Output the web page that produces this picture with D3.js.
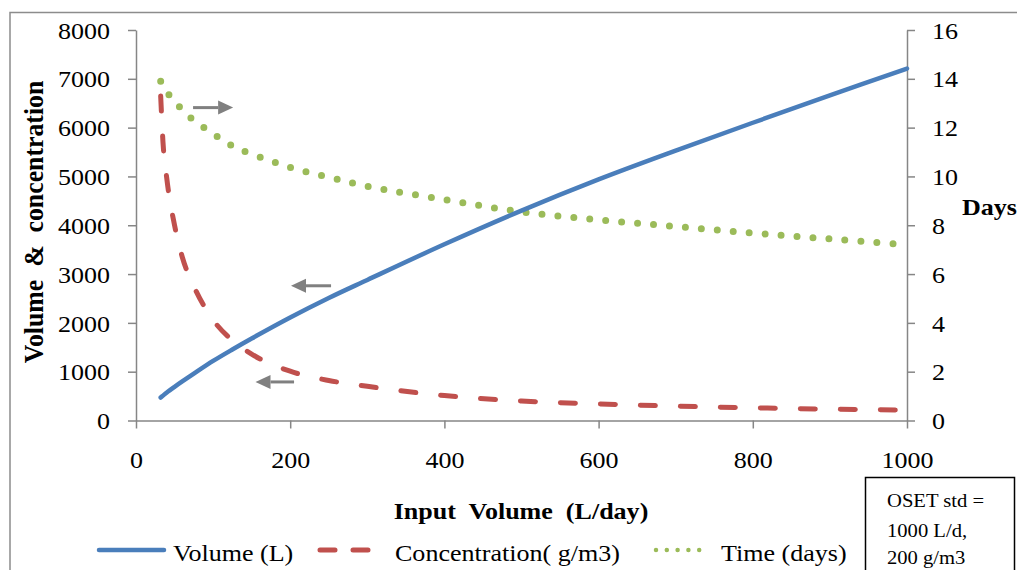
<!DOCTYPE html>
<html>
<head>
<meta charset="utf-8">
<script src="https://cdn.jsdelivr.net/npm/d3@7"></script>
<style>
  body { margin: 0; background: #fff; }
  text { font-family: "Liberation Serif", "Times New Roman", serif; }
</style>
</head>
<body>
<div id="chart"></div>
<script>
// data
const inputVolume   = [32, 35, 40, 50, 60, 75, 100, 125, 150, 200, 250, 300, 400, 500, 600, 700, 800, 900, 1000];
const volumeL       = [470, 510, 575, 690, 800, 960, 1220, 1455, 1680, 2110, 2510, 2880, 3610, 4300, 4940, 5530, 6100, 6660, 7210];
const concentration = [6650, 5700, 4950, 4000, 3350, 2750, 2060, 1640, 1360, 1010, 820, 700, 510, 400, 340, 295, 260, 232, 215];
const timeDays      = [13.9, 13.75, 13.45, 13.1, 12.72, 12.3, 11.75, 11.25, 10.92, 10.37, 9.97, 9.6, 9.05, 8.55, 8.22, 7.95, 7.68, 7.44, 7.2];

const xTicks = [0, 200, 400, 600, 800, 1000];
const yLeftTicks = [0, 1000, 2000, 3000, 4000, 5000, 6000, 7000, 8000];
const yRightTicks = [0, 2, 4, 6, 8, 10, 12, 14, 16];

// annotation arrows, in x / left-axis units: [x1, x2, y, direction]
const arrows = [
  [74, 126, 6410, 1],
  [201, 253, 2760, -1],
  [155, 205, 790, -1]
];

const W = 1017, H = 570;
const SX = 1.085; // horizontal stretch of the original picture
const blue = "#4a7ebb", red = "#c0504d", green = "#9bbb59", axisGray = "#868686";

const svg = d3.select("#chart").append("svg")
    .attr("width", W)
    .attr("height", H);

// outer chart border (runs off the picture on the right and bottom)
svg.append("rect")
    .attr("x", 10).attr("y", 12.5)
    .attr("width", 1100).attr("height", 700)
    .attr("fill", "none")
    .attr("stroke", "#8c8c8c")
    .attr("stroke-width", 1.5);

const x = d3.scaleLinear().domain([0, 1000]).range([136, 907]);
const yL = d3.scaleLinear().domain([0, 8000]).range([420.5, 30]);
const yR = d3.scaleLinear().domain([0, 16]).range([420.5, 30]);

function styleAxis(g) {
    g.select(".domain").attr("stroke", axisGray).attr("stroke-width", 1.5);
    g.selectAll(".tick line").attr("stroke", axisGray).attr("stroke-width", 1.5);
    g.selectAll(".tick text")
        .attr("fill", "#000")
        .style("font-family", "'Liberation Serif', serif")
        .style("font-size", "24px")
        .attr("transform", "scale(" + SX + ",1)");
}

// X axis
svg.append("g")
    .attr("transform", "translate(0," + yL(0) + ")")
    .call(d3.axisBottom(x).tickValues(xTicks).tickFormat(d3.format("d"))
        .tickSize(8).tickSizeOuter(0).tickPadding(22))
    .call(styleAxis);

// left Y axis
svg.append("g")
    .attr("transform", "translate(" + x(0) + ",0)")
    .call(d3.axisLeft(yL).tickValues(yLeftTicks).tickFormat(d3.format("d"))
        .tickSize(8).tickSizeOuter(0).tickPadding(16))
    .call(styleAxis)
    .selectAll(".tick text").attr("dy", "0.34em");

// right Y axis
svg.append("g")
    .attr("transform", "translate(" + x(1000) + ",0)")
    .call(d3.axisRight(yR).tickValues(yRightTicks).tickFormat(d3.format("d"))
        .tickSize(8).tickSizeOuter(0).tickPadding(15))
    .call(styleAxis)
    .selectAll(".tick text").attr("dy", "0.34em");

// series
const pts = inputVolume.map((v, i) => ({ x: v, vol: volumeL[i], conc: concentration[i], t: timeDays[i] }));

const lineVol = d3.line().x(d => x(d.x)).y(d => yL(d.vol)).curve(d3.curveCatmullRom.alpha(0.5));
const lineConc = d3.line().x(d => x(d.x)).y(d => yL(d.conc)).curve(d3.curveMonotoneX);
const lineTime = d3.line().x(d => x(d.x)).y(d => yR(d.t)).curve(d3.curveCatmullRom.alpha(0.5));

svg.append("path")
    .attr("d", lineTime(pts))
    .attr("fill", "none")
    .attr("stroke", green)
    .attr("stroke-width", 7)
    .attr("stroke-linecap", "round")
    .attr("stroke-dasharray", "0 16");

svg.append("path")
    .attr("d", lineConc(pts))
    .attr("fill", "none")
    .attr("stroke", red)
    .attr("stroke-width", 5)
    .attr("stroke-linecap", "round")
    .attr("stroke-dasharray", "15 25");

svg.append("path")
    .attr("d", lineVol(pts))
    .attr("fill", "none")
    .attr("stroke", blue)
    .attr("stroke-width", 4.5)
    .attr("stroke-linecap", "round");

// gray arrows
arrows.forEach(a => {
    const x1 = x(a[0]), x2 = x(a[1]), y = yL(a[2]);
    const tip = a[3] > 0 ? x2 : x1;
    const base = tip - a[3] * 15;
    const tail = a[3] > 0 ? x1 : x2;
    svg.append("line")
        .attr("x1", tail).attr("x2", base)
        .attr("y1", y).attr("y2", y)
        .attr("stroke", "#808080")
        .attr("stroke-width", 3);
    svg.append("path")
        .attr("d", "M" + tip + "," + y + "L" + base + "," + (y - 7) + "L" + base + "," + (y + 7) + "Z")
        .attr("fill", "#808080");
});

// helper for stretched text
function label(tx, ty, str, opts) {
    opts = opts || {};
    return svg.append("text")
        .attr("transform", "translate(" + tx + "," + ty + ")" + (opts.rotate ? " rotate(" + opts.rotate + ")" : "") + " scale(" + (opts.rotate ? 1 : SX) + "," + (opts.rotate ? SX : 1) + ")")
        .attr("text-anchor", opts.anchor || "start")
        .style("font-size", (opts.size || 24) + "px")
        .style("font-weight", opts.bold ? "bold" : "normal")
        .style("white-space", "pre")
        .attr("fill", "#000")
        .text(str);
}

// axis titles
label(521, 519, "Input  Volume  (L/day)", { anchor: "middle", bold: true });
label(43, 222, "Volume  &  concentration", { anchor: "middle", bold: true, rotate: -90, size: 25.8 });
label(962, 215, "Days", { bold: true });

// legend
const legY = 550;
svg.append("line")
    .attr("x1", 99).attr("x2", 164).attr("y1", legY).attr("y2", legY)
    .attr("stroke", blue).attr("stroke-width", 4.5).attr("stroke-linecap", "round");
label(173, 561, "Volume (L)");

svg.append("line")
    .attr("x1", 320).attr("x2", 371).attr("y1", legY).attr("y2", legY)
    .attr("stroke", red).attr("stroke-width", 5).attr("stroke-linecap", "round")
    .attr("stroke-dasharray", "15 18");
label(395, 561, "Concentration( g/m3)");

svg.append("line")
    .attr("x1", 656).attr("x2", 710).attr("y1", legY).attr("y2", legY)
    .attr("stroke", green).attr("stroke-width", 4.5).attr("stroke-linecap", "round")
    .attr("stroke-dasharray", "0 10.8");
label(721, 561, "Time (days)");

// OSET standard note box
svg.append("rect")
    .attr("x", 865.5).attr("y", 477.5)
    .attr("width", 149).attr("height", 120)
    .attr("fill", "#fff")
    .attr("stroke", "#000")
    .attr("stroke-width", 1.5);
label(887, 507, "OSET std =", { size: 19 });
label(887, 537, "1000 L/d,", { size: 19 });
label(887, 564, "200 g/m3", { size: 19 });
</script>
</body>
</html>
